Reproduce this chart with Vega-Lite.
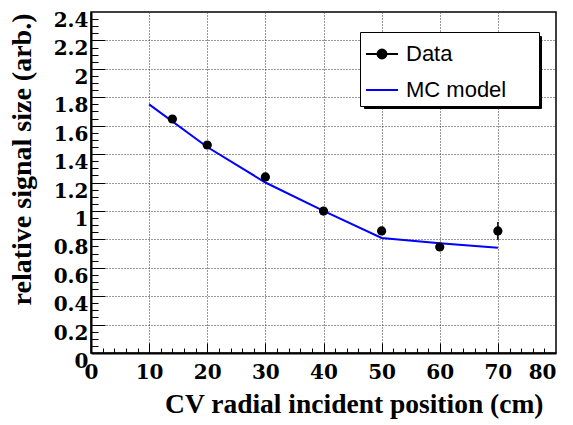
{
  "$schema": "https://vega.github.io/schema/vega-lite/v6.json",
  "width": 465,
  "height": 341,
  "autosize": {"type": "none"},
  "padding": {"left": 91, "top": 12, "right": 17, "bottom": 72},
  "background": "white",
  "config": {
    "view": {"stroke": "black", "strokeWidth": 1.5},
    "legend": {
      "padding": 5,
      "rowPadding": 8,
      "symbolSize": 1024,
      "labelOffset": 7,
      "labelFont": "Liberation Sans",
      "labelFontSize": 22,
      "labelColor": "black",
      "labelLimit": 0,
      "title": null,
      "orient": "none"
    }
  },
  "datasets": {
    "mc": [
      {"x": 10, "y": 1.75, "series": "MC model"},
      {"x": 20, "y": 1.45, "series": "MC model"},
      {"x": 30, "y": 1.2, "series": "MC model"},
      {"x": 40, "y": 1.0, "series": "MC model"},
      {"x": 50, "y": 0.81, "series": "MC model"},
      {"x": 60, "y": 0.772, "series": "MC model"},
      {"x": 70, "y": 0.74, "series": "MC model"}
    ],
    "pts": [
      {"x": 14, "y": 1.647, "lo": 1.627, "hi": 1.667, "series": "Data"},
      {"x": 20, "y": 1.464, "lo": 1.444, "hi": 1.484, "series": "Data"},
      {"x": 30, "y": 1.239, "lo": 1.219, "hi": 1.259, "series": "Data"},
      {"x": 40, "y": 0.999, "lo": 0.979, "hi": 1.019, "series": "Data"},
      {"x": 50, "y": 0.859, "lo": 0.839, "hi": 0.879, "series": "Data"},
      {"x": 60, "y": 0.746, "lo": 0.726, "hi": 0.766, "series": "Data"},
      {"x": 70, "y": 0.859, "lo": 0.795, "hi": 0.922, "series": "Data"}
    ]
  },
  "resolve": {"axis": {"x": "independent", "y": "independent"}},
  "layer": [
    {
      "data": {"name": "mc"},
      "mark": {"type": "line", "strokeWidth": 2},
      "encoding": {
        "x": {
          "field": "x", "type": "quantitative",
          "scale": {"domain": [0, 80], "nice": false, "zero": false},
          "axis": {
            "orient": "bottom",
            "values": [0, 10, 20, 30, 40, 50, 60, 70, 80],
            "format": "d",
            "grid": false, "ticks": false,
            "domain": true, "domainColor": "black", "domainWidth": 2,
            "labelFont": "DejaVu Serif", "labelFontWeight": "bold", "labelFontSize": 20, "labelColor": "black",
            "labelPadding": 9, "labelBaseline": "top", "labelFlush": false, "labelOverlap": false, "labelBound": false,
            "labelAlign": {"expr": "datum.value === 80 ? 'right' : 'center'"},
            "title": "CV radial incident position (cm)",
            "titleFont": "Liberation Serif", "titleFontWeight": "bold", "titleFontSize": 27.5, "titleColor": "black",
            "titleAlign": "right", "titleBaseline": "alphabetic", "titleX": 452, "titleY": 59
          }
        },
        "y": {
          "field": "y", "type": "quantitative",
          "scale": {"domain": [0, 2.4], "nice": false, "zero": false},
          "axis": {
            "orient": "left",
            "values": [0, 0.2, 0.4, 0.6, 0.8, 1, 1.2, 1.4, 1.6, 1.8, 2, 2.2, 2.4],
            "format": "~g",
            "grid": false, "ticks": false,
            "domain": true, "domainColor": "black", "domainWidth": 2,
            "labelFont": "DejaVu Serif", "labelFontWeight": "bold", "labelFontSize": 20, "labelColor": "black",
            "labelPadding": 3, "labelBaseline": "top", "labelOffset": -1.5, "labelOverlap": false, "labelBound": false, "labelFlush": false,
            "title": "relative signal size (arb.)",
            "titleFont": "Liberation Serif", "titleFontWeight": "bold", "titleFontSize": 28, "titleColor": "black",
            "titleAngle": -90, "titleAlign": "right", "titleBaseline": "alphabetic", "titleX": -61, "titleY": 1
          }
        },
        "color": {
          "field": "series", "type": "nominal",
          "scale": {"range": ["black", "blue"]},
          "legend": {
            "title": null, "orient": "none", "legendX": 269, "legendY": 20, "zindex": 2,
            "fillColor": "white", "strokeColor": "black",
            "encode": {
              "symbols": {
                "update": {
                  "shape": {"signal": "datum.value === 'Data' ? 'M-1,0H1M0.28,0A0.28,0.28,0,1,1,-0.28,0A0.28,0.28,0,1,1,0.28,0ZM9.2,0' : 'M-1,0H1M9.2,0'"},
                  "fill": {"signal": "datum.value === 'Data' ? 'black' : 'transparent'"},
                  "stroke": {"signal": "datum.value === 'Data' ? 'black' : 'blue'"},
                  "strokeWidth": {"value": 2},
                  "opacity": {"value": 1}
                }
              }
            }
          }
        }
      }
    },
    {
      "data": {"name": "pts"},
      "mark": {"type": "rule", "strokeWidth": 1.5, "color": "black"},
      "encoding": {
        "x": {
          "field": "x", "type": "quantitative",
          "scale": {"domain": [0, 80], "nice": false, "zero": false},
          "axis": {
            "orient": "bottom", "values": [10, 20, 30, 40, 50, 60, 70],
            "labels": false, "domain": false, "title": null,
            "ticks": true, "tickSize": -10, "tickColor": "black", "tickWidth": 1,
            "grid": true, "gridDash": [1, 2], "gridColor": "#333", "gridWidth": 1
          }
        },
        "y": {
          "field": "lo", "type": "quantitative",
          "scale": {"domain": [0, 2.4], "nice": false, "zero": false},
          "axis": {
            "orient": "left", "values": [0.2, 0.4, 0.6, 0.8, 1, 1.2, 1.4, 1.6, 1.8, 2, 2.2],
            "labels": false, "domain": false, "title": null,
            "ticks": true, "tickSize": -14, "tickColor": "black", "tickWidth": 1,
            "grid": true, "gridDash": [1, 2], "gridColor": "#333", "gridWidth": 1
          }
        },
        "y2": {"field": "hi"}
      }
    },
    {
      "data": {"name": "pts"},
      "mark": {"type": "point", "filled": true, "size": 85},
      "encoding": {
        "x": {
          "field": "x", "type": "quantitative",
          "scale": {"domain": [0, 80], "nice": false, "zero": false},
          "axis": {
            "orient": "bottom",
            "values": [2, 4, 6, 8, 12, 14, 16, 18, 22, 24, 26, 28, 32, 34, 36, 38, 42, 44, 46, 48, 52, 54, 56, 58, 62, 64, 66, 68, 72, 74, 76, 78],
            "labels": false, "domain": false, "title": null, "grid": false,
            "ticks": true, "tickSize": -5, "tickColor": "black", "tickWidth": 1
          }
        },
        "y": {
          "field": "y", "type": "quantitative",
          "scale": {"domain": [0, 2.4], "nice": false, "zero": false},
          "axis": {
            "orient": "left",
            "values": [0.05, 0.1, 0.15, 0.25, 0.3, 0.35, 0.45, 0.5, 0.55, 0.65, 0.7, 0.75, 0.85, 0.9, 0.95, 1.05, 1.1, 1.15, 1.25, 1.3, 1.35, 1.45, 1.5, 1.55, 1.65, 1.7, 1.75, 1.85, 1.9, 1.95, 2.05, 2.1, 2.15, 2.25, 2.3, 2.35],
            "labels": false, "domain": false, "title": null, "grid": false,
            "ticks": true, "tickSize": -7, "tickColor": "black", "tickWidth": 1
          }
        },
        "color": {
          "field": "series", "type": "nominal",
          "scale": {"range": ["black", "blue"]},
          "legend": {
            "title": null, "orient": "none", "legendX": 269, "legendY": 20, "zindex": 2,
            "fillColor": "white", "strokeColor": "black",
            "encode": {
              "symbols": {
                "update": {
                  "shape": {"signal": "datum.value === 'Data' ? 'M-1,0H1M0.28,0A0.28,0.28,0,1,1,-0.28,0A0.28,0.28,0,1,1,0.28,0ZM9.2,0' : 'M-1,0H1M9.2,0'"},
                  "fill": {"signal": "datum.value === 'Data' ? 'black' : 'transparent'"},
                  "stroke": {"signal": "datum.value === 'Data' ? 'black' : 'blue'"},
                  "strokeWidth": {"value": 2},
                  "opacity": {"value": 1}
                }
              }
            }
          }
        },
        "opacity": {
          "field": "series", "type": "nominal",
          "scale": {"domain": ["Data", "MC model"], "range": [1, 1]},
          "legend": {
            "title": null, "orient": "none", "legendX": 273, "legendY": 24, "zindex": 1,
            "fillColor": "black", "strokeColor": "black",
            "symbolSize": 300, "labelOffset": 44, "rowPadding": 15,
            "symbolFillColor": "black", "symbolStrokeColor": "black"
          }
        }
      }
    }
  ]
}
